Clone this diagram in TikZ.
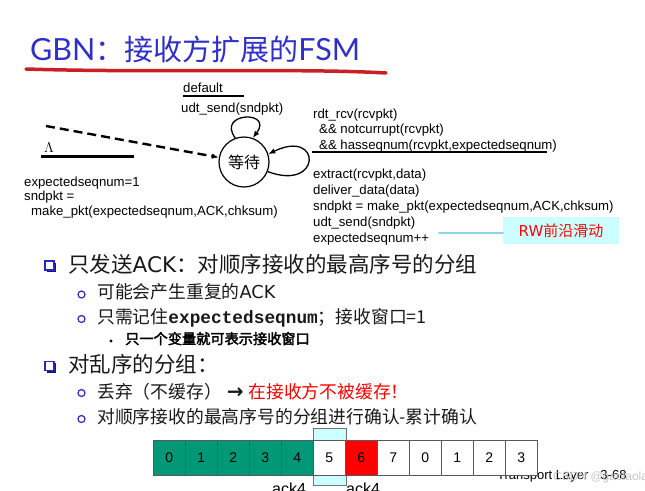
\documentclass[tikz,border=0pt]{standalone}
\usepackage{fontspec}
\setmainfont{Liberation Sans}
\setmonofont{Liberation Mono}
\newfontfamily\cjk{Noto Sans CJK SC}
\newfontfamily\cjkbold{Noto Sans CJK SC}[FakeBold=2.5]
\newfontfamily\titlefont{Lato}
\newfontfamily\symfont{DejaVu Sans}
\usetikzlibrary{arrows.meta}
\definecolor{titleblue}{RGB}{48,48,200}
\definecolor{penred}{RGB}{200,32,36}
\definecolor{bulletblue}{RGB}{40,40,190}
\definecolor{bodytext}{RGB}{25,25,25}
\definecolor{cellgreen}{RGB}{0,152,118}
\definecolor{winfill}{RGB}{204,255,255}
\definecolor{rwline}{RGB}{140,212,232}
\newcommand{\sqbul}[2]{\draw[bulletblue,line width=1.3pt] (#1-5,#2-5) rectangle (#1+4,#2+4);
  \draw[bulletblue!60!black,line width=1.6pt] (#1-3.5,#2+5.5) -- (#1+5.5,#2+5.5) -- (#1+5.5,#2-3.5);}
\newcommand{\rbul}[2]{\draw[bulletblue,line width=1.2pt] (#1,#2) circle (3.5);}
\newcommand{\slot}[3]{\node[slot,fill=#2] (s#1) at ({169.3+32*#1},457.5) {#3};}

\begin{document}
\begin{tikzpicture}[x=1pt,y=-1pt,
  every node/.style={inner sep=0pt},
  fsm/.style={anchor=base west,align=left,font=\fontsize{13.2}{15.5}\selectfont},
  trans/.style={-{Latex[length=7pt,width=5.5pt]},line width=1.3pt},
  lvl/.style={anchor=base west,text=bodytext,font=\cjk\fontsize{21.5}{21.5}\selectfont},
  sub/.style={anchor=base west,text=bodytext,font=\cjk\fontsize{17.8}{17.8}\selectfont},
  subsub/.style={anchor=base west,text=black,font=\cjkbold\fontsize{14.2}{14.2}\selectfont},
  slot/.style={draw=black!65,line width=0.8pt,minimum width=32pt,minimum height=35pt,font=\fontsize{14}{14}\selectfont}]
\useasboundingbox (0,0) rectangle (645,490);
\clip (0,0) rectangle (645,490);

% title
\node[anchor=base west,text=titleblue] (title) at (30,60)
  {\fontsize{30.5}{30.5}\titlefont GBN\fontsize{29}{29}\cjk ：接收方扩展的\fontsize{30.5}{30.5}\titlefont FSM};
\draw[penred,line width=3.5pt,line cap=round] (26,69) .. controls (150,73) and (300,68) .. (386,73);

% receiver fsm
\node[circle,draw,line width=1.2pt,minimum size=50pt,font={\cjk\fontsize{16}{16}\selectfont}] (wait) at (244,162) {等待};
\coordinate (init) at (46,126);
\draw[trans,line width=2.4pt,dash pattern=on 9pt off 5pt] (init) -- (wait);
\draw[trans] (wait.110) .. controls (216,112) and (274,110) .. (wait.70);
\draw[trans] (wait.-22) .. controls (322,192) and (322,128) .. (wait.18);

\node[fsm] (dflt) at (183,92) {default};
\draw[line width=1.8pt] (183,96) -- (244,96);
\node[fsm] (udt) at (181,112) {udt\_send(sndpkt)};

\node[fsm,font=\fontsize{15}{15}\selectfont] (lam) at (44,152.5) {$\Lambda$};
\draw[line width=3pt] (41,156) -- (134,156);
% base of a multi-line node is its last line
\node[fsm,font=\fontsize{13.2}{14.5}\selectfont] (initact) at (24,215)
  {expectedseqnum=1\\sndpkt =\\\hspace*{7pt}make\_pkt(expectedseqnum,ACK,chksum)};

\node[fsm] (guard) at (313,149)
  {rdt\_rcv(rcvpkt)\\\hspace*{6pt}\&\& notcurrupt(rcvpkt)\\\hspace*{6pt}\&\& hasseqnum(rcvpkt,expectedseqnum)};
\draw[line width=1.2pt] (312,152) -- (547,152);
\node[fsm,font=\fontsize{13.2}{16}\selectfont] (act) at (313,242)
  {extract(rcvpkt,data)\\deliver\_data(data)\\sndpkt = make\_pkt(expectedseqnum,ACK,chksum)\\udt\_send(sndpkt)\\expectedseqnum++};

\node[fill=winfill,minimum width=116pt,minimum height=27pt,text=red,font={\cjk\fontsize{15}{15}\selectfont}] (rw) at (561,230.5) {{\symfont RW}前沿滑动};
\coordinate (rwtail) at (439,233);
\draw[rwline,line width=2pt,line cap=round] (rwtail) -- (rwtail -| rw.west);

% bullets
\sqbul{50}{266}
\node[lvl] (l1) at (68,272) {只发送{\symfont ACK}：对顺序接收的最高序号的分组};
\rbul{81.5}{294.5}
\node[sub] (l1a) at (97,298) {可能会产生重复的{\symfont ACK}};
\rbul{81.5}{319}
\node[sub] (l1b) at (97,323) {只需记住{\ttfamily\bfseries expectedseqnum}；接收窗口=1};
\fill (111,341) circle (1.6);
\node[subsub] (l1b1) at (125,344) {只一个变量就可表示接收窗口};
\sqbul{50}{366.5}
\node[lvl] (l2) at (68,372) {对乱序的分组：};
\rbul{81.5}{393}
\node[sub] (l2a) at (97,398) {丢弃（不缓存）\hspace{5pt}{\symfont\bfseries\fontsize{20}{20}\selectfont →}\hspace{5pt}\textcolor{red}{在接收方不被缓存！}};
\rbul{81.5}{419}
\node[sub] (l2b) at (97,423) {对顺序接收的最高序号的分组进行确认-累计确认};

% window
\node[anchor=base west,font=\fontsize{13}{13}\selectfont] (tl) at (497,479) {Transport Layer\hspace{12pt}3-68};
\node[anchor=base west,text=gray!45,font=\fontsize{12}{12}\selectfont] (wm) at (553,480) {CSDN @gaolaola};
\draw[black!55,fill=winfill,line width=0.8pt] (313,428) rectangle (346,485);
\slot{0}{cellgreen}{0} \slot{1}{cellgreen}{1} \slot{2}{cellgreen}{2}
\slot{3}{cellgreen}{3} \slot{4}{cellgreen}{4} \slot{5}{white}{5}
\slot{6}{red}{6} \slot{7}{white}{7} \slot{8}{white}{0}
\slot{9}{white}{1} \slot{10}{white}{2} \slot{11}{white}{3}
\node[anchor=base,font=\fontsize{16}{16}\selectfont] (ack1) at (289,494) {ack4};
\node[anchor=base,font=\fontsize{16}{16}\selectfont] (ack2) at (363,494) {ack4};
\end{tikzpicture}
\end{document}
